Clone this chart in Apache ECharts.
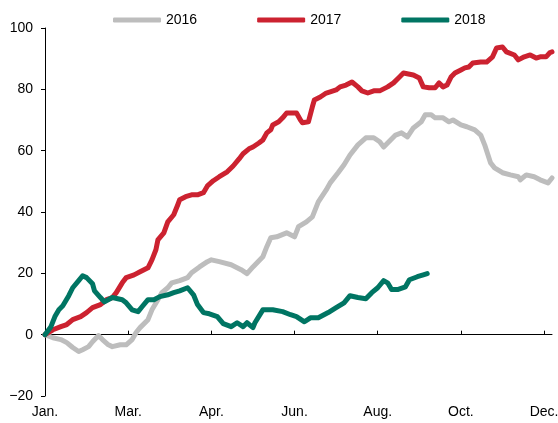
<!DOCTYPE html>
<html style="height: 100%">
<head>
<meta charset="utf-8">
<style>
    html, body { height: 100%; margin: 0; overflow: hidden; background: #fff; }
    #container { width: 558px; height: 423px; }
</style>
</head>
<body>
<div id="container"></div>
<script src="https://cdn.jsdelivr.net/npm/echarts@6/dist/echarts.min.js"></script>
<script>
// trading-day index since the start of the year, and cumulative change
var days2016 = [0,4,8,11,14,17,19,22,24,27,29,32,34,38,41,44,46,48,52,54,57,59,62,64,68,72,74,78,82,84,88,94,99,102,105,110,112,114,117,122,126,128,132,135,138,142,144,148,151,154,158,162,166,169,171,173,177,180,183,186,190,192,195,197,201,204,206,210,213,217,220,222,225,227,231,235,239,240,243,247,250,254,256];
var vals2016 = [0,-1.0,-1.6,-2.6,-4.2,-5.5,-4.9,-3.9,-2.3,-0.3,-1.6,-3.3,-3.9,-3.3,-3.3,-1.6,0.7,2.3,4.9,8.1,11.4,13.7,15.3,16.9,17.6,18.6,20.2,22.1,23.8,24.4,23.8,22.8,21.2,19.9,22.1,25.4,28.7,31.6,31.9,33.2,31.9,35.2,36.8,38.4,43.3,47.2,49.5,52.8,55.4,58.6,61.9,64.2,64.2,62.9,61.2,62.5,65.1,65.8,64.5,67.4,69.4,71.7,71.7,70.7,70.7,69.4,70.0,68.4,67.8,66.8,65.1,61.9,56.0,54.4,52.8,52.1,51.5,50.5,52.1,51.5,50.5,49.5,51.1];

var days2017 = [0,4,8,11,14,18,21,24,28,31,34,36,39,41,45,48,52,54,56,57,60,62,65,67,68,71,74,77,80,82,85,88,92,95,98,100,103,105,108,110,112,114,115,118,120,122,127,129,130,133,135,136,139,142,144,147,149,152,155,158,160,163,166,169,173,176,179,181,186,189,191,194,197,199,201,203,205,207,210,212,214,216,220,223,226,228,231,233,237,239,242,245,248,250,253,255,256];
var vals2017 = [0,1.6,2.6,3.3,4.9,5.9,7.2,8.8,9.8,11.4,12.1,13.7,16.9,18.6,19.5,20.5,21.8,24.4,27.7,30.9,33.2,36.8,39.1,42.3,44.0,45.0,45.6,45.6,46.3,48.5,50.2,51.5,53.1,55.0,57.3,59.0,60.6,61.2,62.5,63.5,65.8,66.8,68.4,69.4,70.7,72.3,72.3,70.0,69.1,69.4,74.3,76.5,77.5,78.8,79.2,79.8,80.8,81.4,82.4,80.8,79.5,78.8,79.5,79.5,80.8,82.1,84.0,85.3,84.7,83.7,80.8,80.5,80.5,82.1,80.8,81.4,84.0,85.3,86.3,87.0,87.3,88.6,88.9,88.9,90.6,93.5,93.8,92.2,91.2,89.6,90.6,91.2,90.2,90.6,90.6,92.0,92.2];

var days2018 = [0,3,5,7,9,12,14,17,19,21,24,25,28,30,34,39,41,44,47,49,52,55,58,62,65,68,72,75,77,80,83,87,90,94,97,100,102,105,106,110,115,120,124,127,131,134,138,143,147,151,154,158,162,165,168,171,173,175,178,182,184,188,191,193];
var vals2018 = [0,2.6,5.9,8.1,9.4,12.7,15.3,17.6,19.2,18.6,16.6,14.3,12.1,10.7,12.1,11.4,10.4,8.1,7.5,9.1,11.4,11.4,12.4,13.0,13.7,14.3,15.3,13.0,9.8,7.2,6.8,5.9,3.6,2.6,3.9,2.6,3.9,2.3,3.9,8.1,8.1,7.5,6.5,5.9,4.2,5.5,5.5,7.2,8.8,10.4,12.7,12.1,11.7,13.7,15.3,17.6,16.9,14.7,14.7,15.6,17.9,18.9,19.5,19.9];

var tickDays = [0,42,84,126,168,210,252];
var tickNames = ['Jan.','Mar.','Apr.','Jun.','Aug.','Oct.','Dec.'];

function pairs(d, v) {
    var out = [];
    for (var i = 0; i < d.length; i++) out.push([d[i], v[i]]);
    return out;
}

var font = 'Liberation Sans, Arial, sans-serif';
var myChart = echarts.init(document.getElementById('container'));

function line(name, color, d, v) {
    return {
        name: name,
        type: 'line',
        xAxisIndex: 0,
        data: pairs(d, v),
        symbol: 'none',
        smooth: false,
        lineStyle: { color: color, width: 5, cap: 'round', join: 'round' },
        itemStyle: { color: color },
        emphasis: { disabled: true },
        animation: false
    };
}

var option = {
    backgroundColor: '#fff',
    legend: {
        data: ['2016', '2017', '2018'],
        left: 108,
        top: 8,
        icon: 'roundRect',
        itemWidth: 48,
        itemHeight: 5,
        itemGap: 60,
        textStyle: { fontSize: 14, color: '#000', fontFamily: font }
    },
    grid: { left: 45, right: 6, top: 28, bottom: 27, outerBoundsMode: 'none' },
    xAxis: [{
        type: 'value',
        min: 0,
        max: 256,
        axisLine: { onZero: true, lineStyle: { color: '#000', width: 1 } },
        axisTick: { show: true, inside: true, length: 4, customValues: tickDays, lineStyle: { color: '#000' } },
        axisLabel: { show: false },
        splitLine: { show: false }
    }, {
        type: 'value',
        min: 0,
        max: 256,
        position: 'bottom',
        axisLine: { show: false, onZero: false },
        axisTick: { show: false },
        splitLine: { show: false },
        axisLabel: {
            customValues: tickDays,
            margin: 9,
            fontSize: 14,
            color: '#000',
            fontFamily: font,
            formatter: function (v) {
                var i = tickDays.indexOf(v);
                return i >= 0 ? tickNames[i] : '';
            }
        }
    }],
    yAxis: {
        type: 'value',
        min: -20,
        max: 100,
        interval: 20,
        axisLine: { show: true, lineStyle: { color: '#000', width: 1 } },
        axisTick: { show: true, length: 4, lineStyle: { color: '#000' } },
        splitLine: { show: false },
        axisLabel: {
            margin: 12,
            fontSize: 14,
            color: '#000',
            fontFamily: font,
            formatter: function (v) { return v < 0 ? '\u2212' + Math.abs(v) : String(v); }
        }
    },
    series: [
        line('2016', '#bdbdbd', days2016, vals2016),
        line('2017', '#cc2230', days2017, vals2017),
        line('2018', '#007563', days2018, vals2018)
    ]
};
myChart.setOption(option);
</script>
</body>
</html>
